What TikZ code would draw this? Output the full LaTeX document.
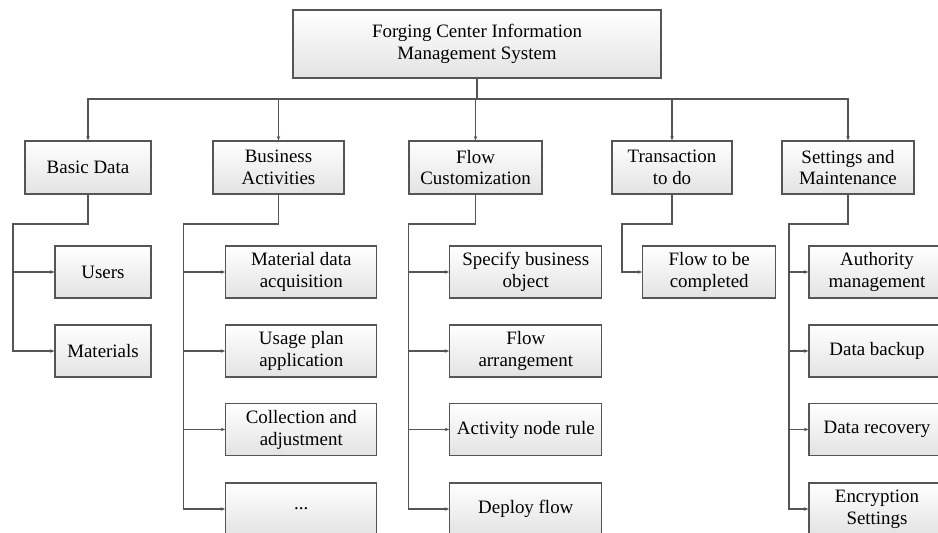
\documentclass[tikz,border=0pt]{standalone}
\usepackage{fontspec}
\setmainfont{Liberation Serif}
\usetikzlibrary{arrows.meta}
\definecolor{boxline}{HTML}{555555}
\definecolor{conn}{HTML}{555555}
\begin{document}
\begin{tikzpicture}[x=1bp,y=-1bp,
  box/.style={draw=boxline, line width=1.1bp, top color=white, bottom color=black!11,
    align=center, inner sep=0pt, minimum height=52bp,
    font=\fontsize{19}{22}\selectfont},
  arr/.style={draw=conn, line width=1.1bp, -{Stealth[length=4.5bp,width=3.5bp]}}]
\useasboundingbox (0,0) rectangle (938,533);
% top
\node[box, minimum width=368bp, minimum height=68bp] (top) at (477,44) {Forging Center Information\\Management System};
% level 2
\node[box, minimum width=126bp, minimum height=53bp] (basic) at (88,167.5) {Basic Data};
\node[box, minimum width=131bp, minimum height=53bp] (bus) at (278.5,167.5) {Business\\Activities};
\node[box, minimum width=133bp, minimum height=53bp] (flow) at (475.5,167.5) {Flow\\Customization};
\node[box, minimum width=120bp, minimum height=53bp] (trans) at (672,167.5) {Transaction\\to do};
\node[box, minimum width=132bp, minimum height=53bp] (set) at (848,167.5) {Settings and\\Maintenance};
% level 3
\node[box, minimum width=96bp] (users) at (103,272) {Users};
\node[box, minimum width=96bp] (mat) at (103,351) {Materials};
\node[box, minimum width=151bp] (ba1) at (301.3,272) {Material data\\acquisition};
\node[box, minimum width=151bp] (ba2) at (301.3,351) {Usage plan\\application};
\node[box, minimum width=151bp] (ba3) at (301.3,429.5) {Collection and\\adjustment};
\node[box, minimum width=151bp] (ba4) at (301.3,509) {...};
\node[box, minimum width=152bp] (fc1) at (525.8,272) {Specify business\\object};
\node[box, minimum width=152bp] (fc2) at (525.8,351) {Flow\\arrangement};
\node[box, minimum width=152bp] (fc3) at (525.8,429.5) {Activity node rule};
\node[box, minimum width=152bp] (fc4) at (525.8,509) {Deploy flow};
\node[box, minimum width=133bp] (td1) at (709.2,272) {Flow to be\\completed};
\node[box, minimum width=136bp] (st1) at (877,272) {Authority\\management};
\node[box, minimum width=136bp] (st2) at (877,351) {Data backup};
\node[box, minimum width=136bp] (st3) at (877,429.5) {Data recovery};
\node[box, minimum width=136bp] (st4) at (877,509) {Encryption\\Settings};
% connectors top -> level 2
\coordinate (busy) at (0,99);
\foreach \n in {basic,bus,flow,trans,set}
  \draw[arr] (top.south) |- (busy -| \n.north) -- (\n.north);
% trunks
\coordinate (tb) at (13,224);
\coordinate (tba) at (183.7,224);
\coordinate (tfc) at (408.3,224);
\coordinate (ttd) at (622,224);
\coordinate (tst) at (789,224);
\foreach \c in {users,mat} \draw[arr] (basic.south) |- (tb) |- (\c.west);
\foreach \c in {ba1,ba2,ba3,ba4} \draw[arr] (bus.south) |- (tba) |- (\c.west);
\foreach \c in {fc1,fc2,fc3,fc4} \draw[arr] (flow.south) |- (tfc) |- (\c.west);
\draw[arr] (trans.south) |- (ttd) |- (td1.west);
\foreach \c in {st1,st2,st3,st4} \draw[arr] (set.south) |- (tst) |- (\c.west);
\end{tikzpicture}
\end{document}
